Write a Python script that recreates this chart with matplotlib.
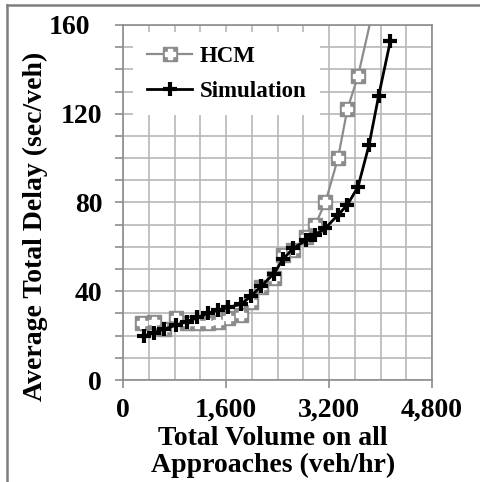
import matplotlib
matplotlib.use("Agg")
import matplotlib.pyplot as plt
import matplotlib.transforms as mtransforms
from matplotlib.lines import Line2D
from matplotlib.ticker import MultipleLocator, FuncFormatter

# volumes (veh/hr) and delays (sec/veh)
sim_vol = [326, 476, 632, 828, 994, 1155, 1320, 1481, 1636, 1838, 1994, 2149,
           2340, 2485, 2641, 2848, 2983, 3143, 3340, 3485, 3651, 3822, 3972, 4153]
sim_delay = [19.8, 21.3, 22.8, 24.8, 26.3, 28.2, 30.0, 31.5, 32.7, 34.2, 37.9, 42.4,
             47.8, 54.4, 59.3, 63.1, 65.4, 68.4, 74.4, 78.9, 87.1, 105.9, 128.2, 152.8]

hcm_vol = [300, 476, 632, 828, 994, 1155, 1320, 1481, 1636, 1838, 1994, 2149,
           2340, 2485, 2641, 2848, 2983, 3143, 3340, 3485, 3651, 3972]
hcm_delay = [25.8, 26.3, 23.0, 27.8, 25.5, 25.5, 25.5, 26.3, 27.8, 29.3, 35.3, 42.0,
             46.0, 56.4, 58.6, 64.6, 69.8, 80.0, 100.0, 122.0, 137.0, 178.0]

GRAY = "#8c8c8c"
GRID = "#b8b8b8"
FONT = "Liberation Serif"

fig = plt.figure(figsize=(4.81, 4.82), dpi=100)
ax = fig.add_axes([123 / 481, 1 - 380 / 482, 309 / 481, 355 / 482])

h1, = ax.plot(hcm_vol, hcm_delay, "-s", color=GRAY, lw=1.6, ms=10,
              mfc=GRAY, mec=GRAY, zorder=3)
h1p, = ax.plot(hcm_vol, hcm_delay, "P", color="white", ms=7, mec="white",
               lw=0, zorder=3.5)
h2, = ax.plot(sim_vol, sim_delay, "-+", color="black", lw=2, ms=10, mew=3,
              zorder=4)

ax.set_xlim(0, 4800)
ax.set_ylim(0, 160)
ax.xaxis.set_major_locator(MultipleLocator(1600))
ax.xaxis.set_minor_locator(MultipleLocator(400))
ax.yaxis.set_major_locator(MultipleLocator(40))
ax.yaxis.set_minor_locator(MultipleLocator(10))
ax.xaxis.set_major_formatter(FuncFormatter(lambda v, p: f"{int(v):,}"))
ax.grid(which="both", color=GRID, lw=1.2)
ax.set_axisbelow(True)
for s in ax.spines.values():
    s.set_color(GRAY)
    s.set_linewidth(1.2)
ax.tick_params(axis="x", which="major", direction="out", length=6, width=1.2,
               color=GRAY, pad=7)
ax.tick_params(axis="x", which="minor", length=0)
ax.tick_params(axis="y", which="both", direction="out", length=6, width=1.2,
               color=GRAY, pad=9)
ax.tick_params(labelsize=20)
for lab in ax.get_xticklabels() + ax.get_yticklabels():
    lab.set_fontfamily(FONT)
    lab.set_fontweight("bold")

leg = ax.legend([(h1, h1p), h2], ["HCM", "Simulation"], loc="upper left",
                bbox_to_anchor=(0.032, 0.98), borderaxespad=0, frameon=True,
                fancybox=False, framealpha=1, edgecolor="none",
                handlelength=2.0, handletextpad=0.3, labelspacing=0.6,
                borderpad=0.6,
                prop={"family": FONT, "weight": "bold", "size": 16.5})

fig.text(35 / 481, 1 - 226 / 482, "Average Total Delay (sec/veh)", rotation=90,
         ha="center", va="center", family=FONT, weight="bold", fontsize=20)
fig.text(273 / 481, 1 - 452 / 482, "Total Volume on all\nApproaches (veh/hr)",
         ha="center", va="center", multialignment="center", linespacing=1.08,
         family=FONT, weight="bold", fontsize=20)

# outer frame (top and left edges)
fig.add_artist(Line2D([7 / 481, 1], [1 - 5 / 482] * 2, color="#7f7f7f", lw=1.8,
                      transform=fig.transFigure))
fig.add_artist(Line2D([7 / 481] * 2, [0, 1 - 5 / 482], color="#7f7f7f", lw=1.8,
                      transform=fig.transFigure))

# the top y label sits a little further left in the original
fig.canvas.draw()
for lab in ax.get_yticklabels():
    if lab.get_text() == "160":
        lab.set_transform(lab.get_transform() + mtransforms.ScaledTranslation(
            -12 / 100, 0, fig.dpi_scale_trans))

fig.savefig("out.png", dpi=100)
